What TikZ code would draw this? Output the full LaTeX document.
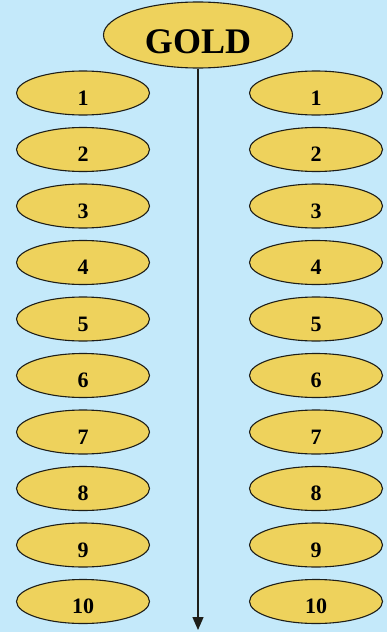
\documentclass[tikz,border=0pt]{standalone}
\usepackage{fontspec}
\setmainfont{Liberation Serif}
\usetikzlibrary{shapes.geometric,arrows.meta}
\definecolor{bgblue}{RGB}{196,233,250}
\definecolor{goldfill}{RGB}{238,210,92}
\definecolor{edge}{RGB}{30,30,25}
\tikzset{
  oval/.style={ellipse, draw=edge, line width=1.1pt, fill=goldfill, minimum width=133pt, minimum height=44pt, inner sep=0pt, font=\fontsize{22}{22}\selectfont\bfseries},
  bigoval/.style={ellipse, draw=edge, line width=1.1pt, fill=goldfill, minimum width=189pt, minimum height=66pt, inner sep=0pt, font=\fontsize{36}{36}\selectfont\bfseries},
  flow/.style={-{Triangle[width=11pt,length=13pt]}, line width=1.3pt, draw=edge}
}
\newcommand{\lowtext}[2]{\raisebox{#1}[0pt][0pt]{#2}}
\begin{document}
\begin{tikzpicture}[x=1pt,y=1pt]
\useasboundingbox[fill=bgblue] (0,0) rectangle (387,-632);
\node[bigoval] (gold) at (198,-35) {\lowtext{-18pt}{GOLD}};
\coordinate (end) at (198,-630);
\foreach \i in {1,...,10} {
  \pgfmathsetmacro{\yy}{-93-(\i-1)*56.5}
  \node[oval] (l\i) at (83,\yy) {\lowtext{-12pt}{\i}};
  \node[oval] (r\i) at (316,\yy) {\lowtext{-12pt}{\i}};
}
\draw[flow] (gold.south) -- (end);
\end{tikzpicture}
\end{document}
